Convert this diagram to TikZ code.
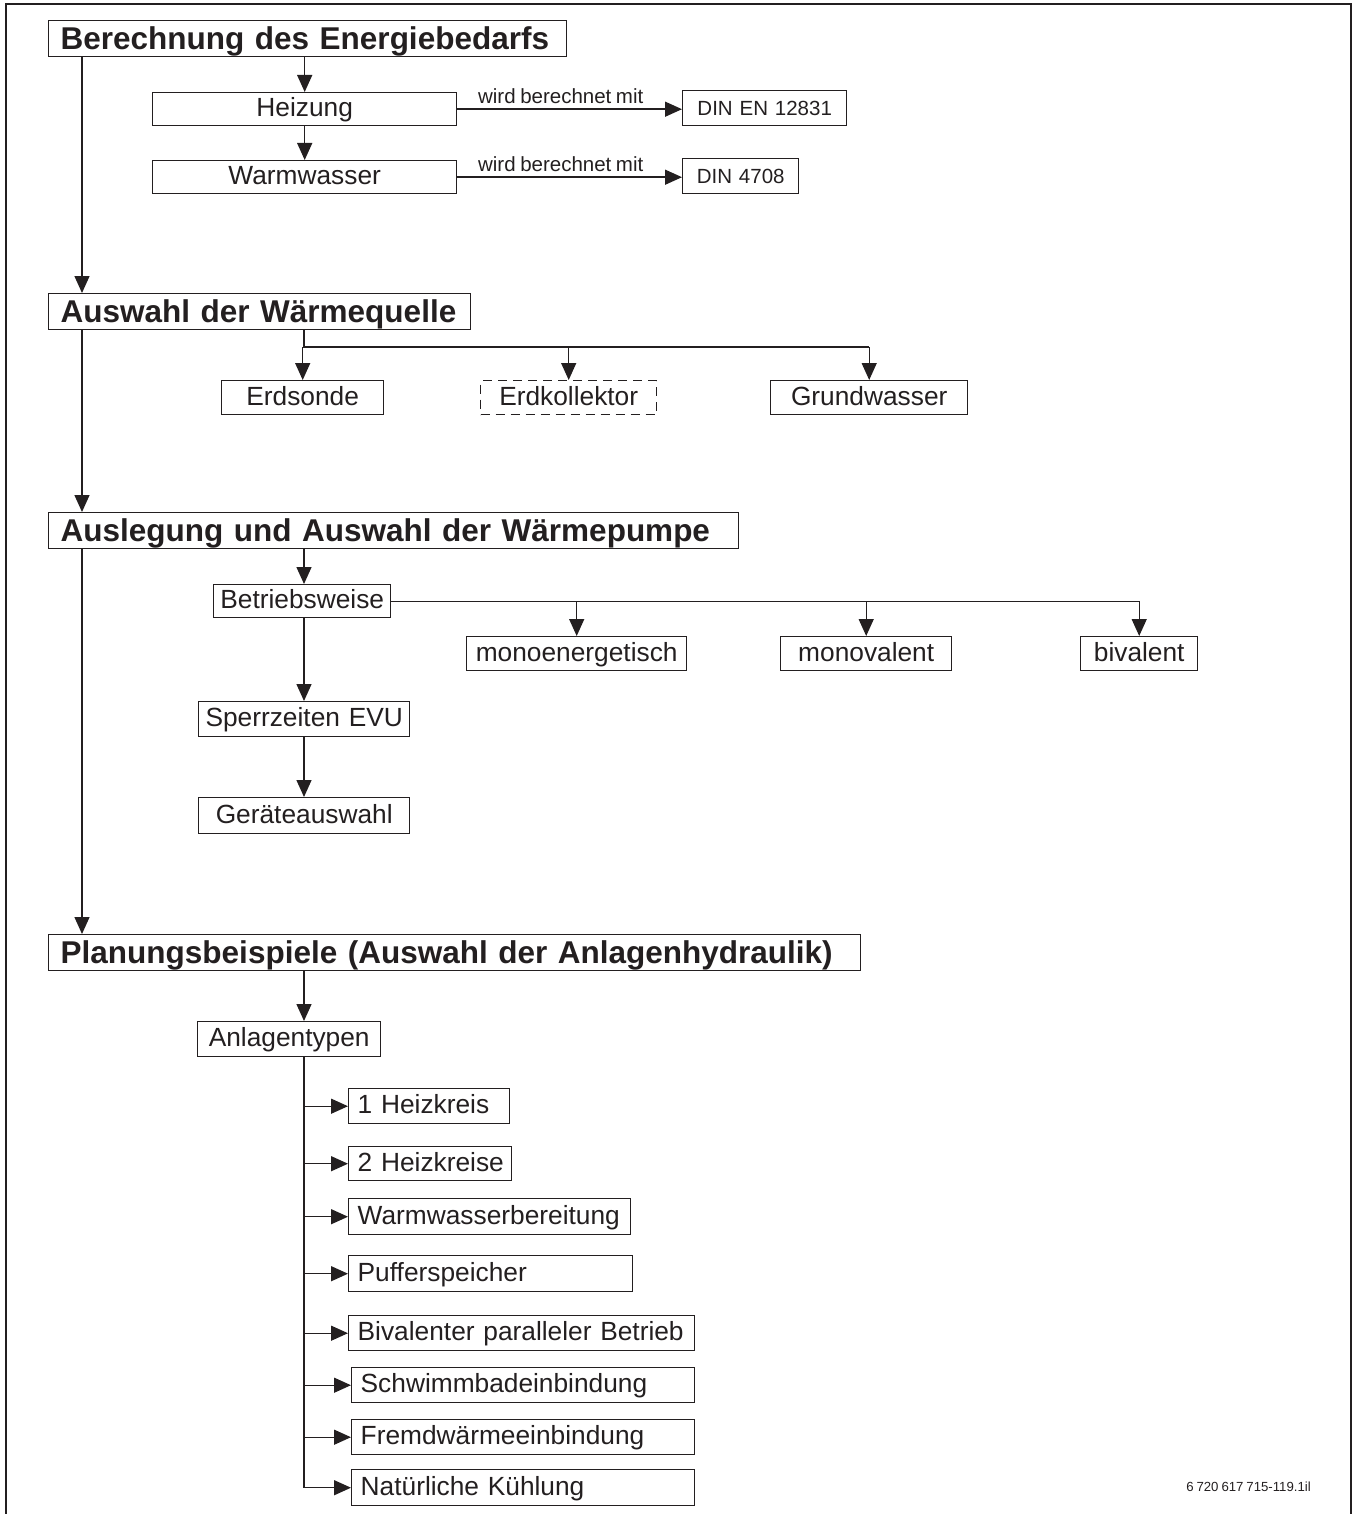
\documentclass[tikz,border=0pt]{standalone}
\usepackage{fontspec}
\setmainfont{Liberation Sans}[WordSpace=0.8]
\usetikzlibrary{arrows.meta}
\definecolor{ink}{RGB}{35,31,32}
\newcommand\ftitle{\fontsize{31.5}{36}\bfseries\selectfont}
\newcommand\fnorm{\fontsize{26.3}{30}\selectfont}
\newcommand\fsmall{\fontsize{20.5}{24}\selectfont}
\newcommand\ftiny{\fontsize{13.2}{16}\selectfont}
\tikzset{
  ln/.style={line width=1.4pt, draw=ink},
  arr/.style={ln, -{Triangle[length=17pt,width=15pt]}},
  bx/.style={ln, anchor=north west, inner sep=0pt, text=ink, font=\fnorm, text height=19pt, text depth=4pt},
  cbx/.style={bx, align=center},
  ttl/.style={bx, font=\ftitle, align=left, inner xsep=12pt, text height=23pt, text depth=2pt},
  lbx/.style={bx, align=left, inner xsep=9pt},
  sbx/.style={bx, font=\fsmall, align=center, text height=15pt, text depth=0pt},
  lbl/.style={pos=0.46, above=1pt, font=\fsmall, text=ink},
}
\begin{document}
\begin{tikzpicture}[x=1pt,y=-1pt]
\useasboundingbox (0,0) rectangle (1353,1514);
% frame
\draw[ln] (6,1514) -- (6,4) -- (1351,4) -- (1351,1514);

% titles
\node[ttl, text width=494pt, minimum height=36pt] (t1) at (48,20) {Berechnung des Energiebedarfs};
\node[ttl, text width=398pt, minimum height=36pt] (t2) at (48,293) {Auswahl der Wärmequelle};
\node[ttl, text width=666pt, minimum height=36pt] (t3) at (48,512) {Auslegung und Auswahl der Wärmepumpe};
\node[ttl, text width=788pt, minimum height=36pt] (t4) at (48,934) {Planungsbeispiele (Auswahl der Anlagenhydraulik)};

\coordinate (sp) at (82,0);
\draw[arr] (t1.south -| sp) -- (t2.north -| sp);
\draw[arr] (t2.south -| sp) -- (t3.north -| sp);
\draw[arr] (t3.south -| sp) -- (t4.north -| sp);

% section 1
\node[cbx, text width=304pt, minimum height=33pt] (hz) at (152,92) {Heizung};
\node[cbx, text width=304pt, minimum height=33pt] (ww) at (152,160) {Warmwasser};
\node[sbx, text width=164pt, minimum height=35pt] (d1) at (682,90) {DIN EN 12831};
\node[sbx, text width=116pt, minimum height=35pt] (d2) at (682,158) {DIN 4708};
\draw[arr] (t1.south -| hz.north) -- (hz.north);
\draw[arr] (hz.south) -- (ww.north);
\draw[arr] (hz.east) -- (hz.east -| d1.west) node[lbl] {wird berechnet mit};
\draw[arr] (ww.east) -- (ww.east -| d2.west) node[lbl] {wird berechnet mit};

% section 2
\node[cbx, text width=162pt, minimum height=34pt] (es) at (221,380) {Erdsonde};
\node[cbx, text width=176pt, minimum height=34pt, dash pattern=on 9pt off 6pt] (ek) at (480,380) {Erdkollektor};
\node[cbx, text width=197pt, minimum height=34pt] (gw) at (770,380) {Grundwasser};
\coordinate (b2) at (304,347);
\draw[ln] (t2.south -| b2) -- (b2) -- (b2 -| gw.north);
\draw[arr] (b2 -| es.north) -- (es.north);
\draw[arr] (b2 -| ek.north) -- (ek.north);
\draw[arr] (b2 -| gw.north) -- (gw.north);

% section 3
\node[cbx, text width=177pt, minimum height=33pt] (bw) at (213,584) {Betriebsweise};
\node[cbx, text width=220pt, minimum height=34pt] (me) at (466,636) {monoenergetisch};
\node[cbx, text width=171pt, minimum height=34pt] (mv) at (780,636) {monovalent};
\node[cbx, text width=117pt, minimum height=34pt] (bv) at (1080,636) {bivalent};
\node[cbx, text width=211pt, minimum height=35pt] (sz) at (198,701) {Sperrzeiten EVU};
\node[cbx, text width=211pt, minimum height=36pt] (ga) at (198,797) {Geräteauswahl};
\coordinate (c3) at (304,0);
\draw[arr] (t3.south -| c3) -- (bw.north -| c3);
\draw[ln] (bw.east) -- (bw.east -| bv.north);
\draw[arr] (bw.east -| me.north) -- (me.north);
\draw[arr] (bw.east -| mv.north) -- (mv.north);
\draw[arr] (bw.east -| bv.north) -- (bv.north);
\draw[arr] (bw.south -| c3) -- (sz.north -| c3);
\draw[arr] (sz.south -| c3) -- (ga.north -| c3);

% section 4
\node[cbx, text width=183pt, minimum height=35pt] (at) at (197,1021) {Anlagentypen};
\draw[arr] (t4.south -| c3) -- (at.north -| c3);
\node[lbx, text width=143pt, minimum height=35pt] (k1) at (348,1088) {\mbox{1 Heizkreis}};
\node[lbx, text width=145pt, minimum height=34pt] (k2) at (348,1146) {\mbox{2 Heizkreise}};
\node[lbx, text width=264pt, minimum height=36pt] (wb) at (348,1198) {\mbox{Warmwasserbereitung}};
\node[lbx, text width=266pt, minimum height=36pt] (ps) at (348,1255) {\mbox{Pufferspeicher}};
\node[lbx, text width=328pt, minimum height=35pt] (bp) at (348,1315) {\mbox{Bivalenter paralleler Betrieb}};
\node[lbx, text width=325pt, minimum height=35pt] (sb) at (351,1367) {\mbox{Schwimmbadeinbindung}};
\node[lbx, text width=325pt, minimum height=35pt] (fw) at (351,1419) {\mbox{Fremdwärmeeinbindung}};
\node[lbx, text width=325pt, minimum height=36pt] (nk) at (351,1469) {\mbox{Natürliche Kühlung}};
\draw[ln] (at.south -| c3) -- (nk.west -| c3);
\foreach \n in {k1,k2,wb,ps,bp,sb,fw,nk}{
  \draw[arr] (\n.west -| c3) -- (\n.west);
}

\node[anchor=south east, inner sep=0pt, font=\ftiny, text=ink] (id) at (1311,1492) {6 720 617 715-119.1il};
\end{tikzpicture}
\end{document}
